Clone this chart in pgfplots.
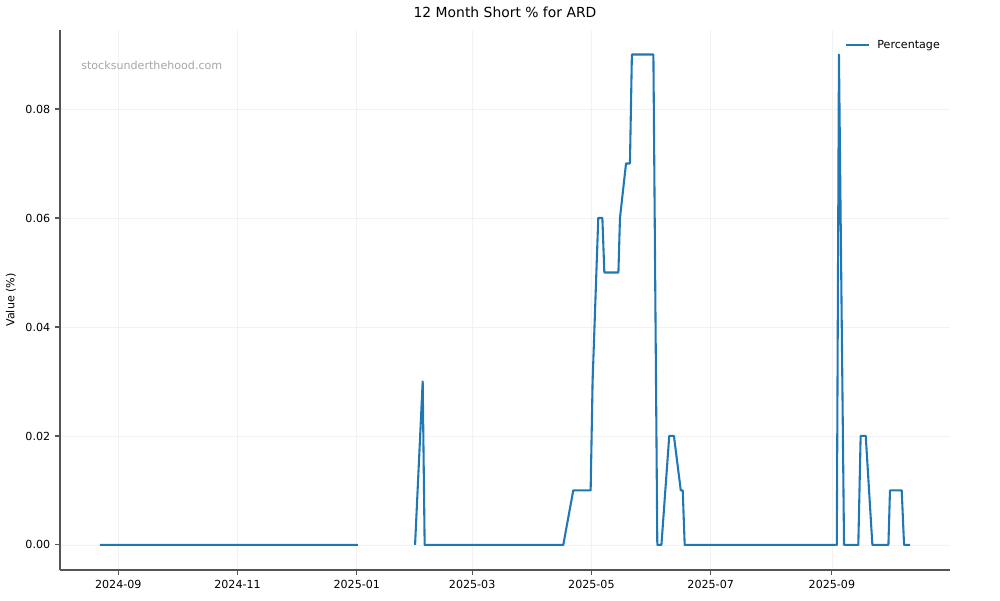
\documentclass[border=0pt]{standalone}
\usepackage{pgfplots}
\pgfplotsset{compat=1.18}
\usepackage{fontspec}
\setmainfont{DejaVu Sans}
\definecolor{mplblue}{HTML}{1F77B4}
\definecolor{spine}{HTML}{555555}
\begin{document}
\begin{tikzpicture}[x=1pt,y=1pt]
\path[use as bounding box] (0,0) rectangle (720,432);
\begin{axis}[
  at={(43.2pt,21.6pt)}, anchor=south west,
  scale only axis, width=640.8pt, height=388.8pt,
  xmin=-29.8, xmax=425.4, ymin=-0.0046, ymax=0.0945,
  axis x line*=bottom, axis y line*=left,
  axis line style={spine, line width=0.8pt},
  tick align=outside, tick style={spine, line width=0.8pt}, major tick length=3.5pt,
  xtick={0,61,122,181,242,303,365},
  xticklabels={2024-09,2024-11,2025-01,2025-03,2025-05,2025-07,2025-09},
  ytick={0,0.02,0.04,0.06,0.08},
  scaled y ticks=false,
  yticklabel style={/pgf/number format/.cd, fixed, fixed zerofill, precision=2},
  /pgf/number format/assume math mode=true,
  ticklabel style={font=\fontsize{8}{9.6}\selectfont},
  grid=major, grid style={color=black!5, line width=0.5pt},
  title={12 Month Short \% for ARD},
  title style={font=\fontsize{10}{12}\selectfont, yshift=-0.6pt},
  ylabel={Value (\%)},
  ylabel style={font=\fontsize{8}{9.6}\selectfont},
  legend style={at={(0.99,0.99)}, anchor=north east, xshift=4.3pt, yshift=0.7pt,
    draw=none, fill=none, font=\fontsize{8}{9.6}\selectfont},
  legend image code/.code={\draw[#1] (0pt,0pt) -- (16pt,0pt); \path (19.5pt,0pt);},
  legend cell align=left,
  unbounded coords=jump,
  clip=false,
]
\addplot[mplblue, line width=1.5pt, line join=round] table[row sep=\\] {
x y \\
-9.4 0 \\ 122.6 0 \\ 136 nan \\
151.8 0 \\ 155.7 0.03 \\ 156.7 0 \\ 227.6 0 \\ 232.7 0.01 \\ 241.6 0.01 \\
242.6 0.03 \\ 245.5 0.06 \\ 247.6 0.06 \\ 248.6 0.05 \\ 255.8 0.05 \\ 256.6 0.06 \\
259.7 0.07 \\ 261.7 0.07 \\ 262.7 0.09 \\ 273.7 0.09 \\ 275.7 0 \\ 277.8 0 \\
281.8 0.02 \\ 284.2 0.02 \\ 287.7 0.01 \\ 288.7 0.01 \\ 289.7 0 \\ 367.5 0 \\
368.6 0.09 \\ 371.2 0 \\ 378.5 0 \\ 379.7 0.02 \\ 382.3 0.02 \\ 385.7 0 \\
393.9 0 \\ 394.7 0.01 \\ 400.7 0.01 \\ 401.9 0 \\ 405 0 \\
};
\addlegendentry{Percentage}
\node[anchor=west, inner sep=0pt, text=black!35, font=\fontsize{8}{9.6}\selectfont] at (rel axis cs:0.0236,0.935) {stocksunderthehood.com};
\end{axis}
\end{tikzpicture}
\end{document}
